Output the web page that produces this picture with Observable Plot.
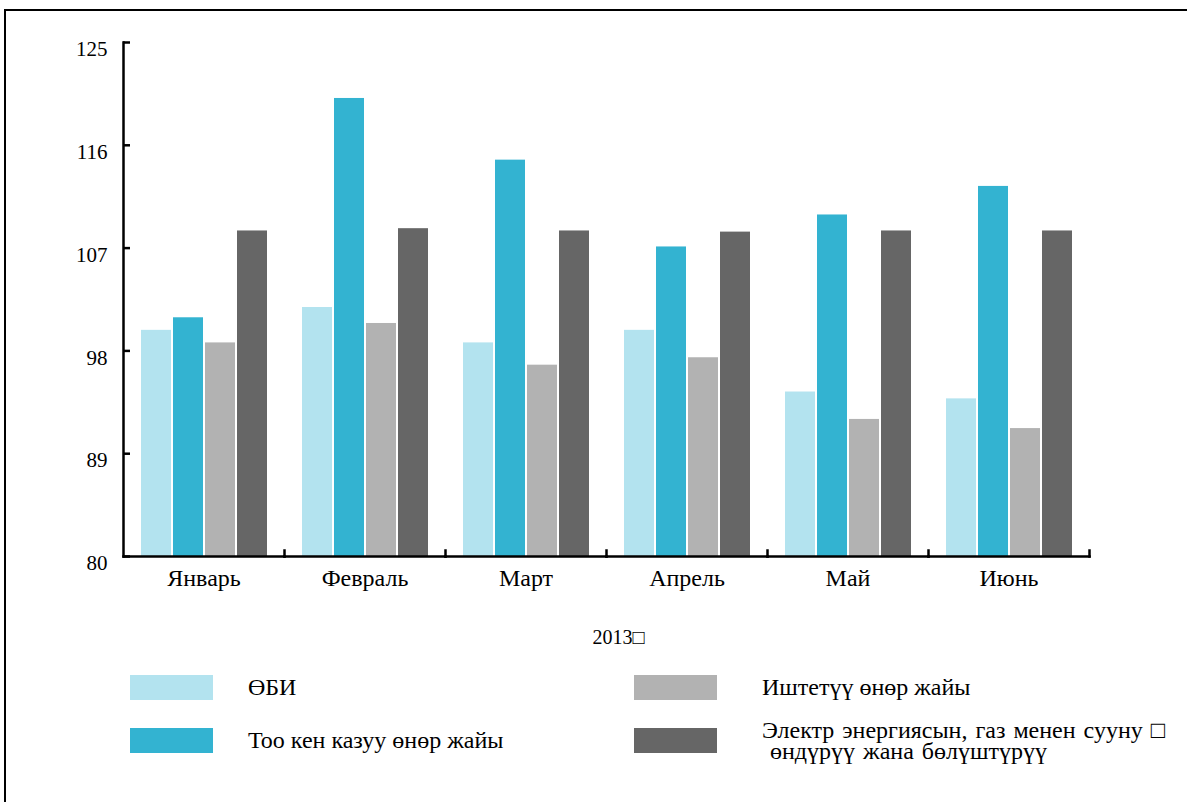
<!DOCTYPE html>
<html>
<head>
<meta charset="utf-8">
<script src="https://cdn.jsdelivr.net/npm/d3@7"></script>
<script src="https://cdn.jsdelivr.net/npm/@observablehq/plot@0.6"></script>
<style>
  html, body { margin: 0; padding: 0; background: #fff; overflow: hidden; width: 1187px; height: 802px; }
  body { font-family: "Liberation Serif", "Times New Roman", serif; color: #000; position: relative; }
  #border { position: absolute; left: 4px; top: 9px; width: 1300px; height: 900px;
            border-top: 2px solid #000; border-left: 2px solid #000; }
  #chart { position: absolute; left: 0; top: 0; }
  #year { position: absolute; left: 0; width: 1237px; top: 625px; text-align: center; font-size: 20px; line-height: 24px; }
  #legend { position: absolute; left: 130px; top: 675px; display: grid;
            grid-template-columns: 504px 504px; grid-template-rows: 53px 53px; grid-auto-flow: column; }
  .item { display: flex; align-items: flex-start; height: 53px; }
  .sw { width: 83px; height: 25px; flex: none; }
  .lab { margin-left: 35px; font-size: 24px; line-height: 21px; white-space: pre; height: 25px;
         display: flex; align-items: center; }
  .col2 .lab { margin-left: 45px; }
  .wide { word-spacing: 2px; }
</style>
</head>
<body>
<div id="border"></div>
<div id="chart"></div>
<div id="year"></div>
<div id="legend"></div>
<script>
const months = ["Январь", "Февраль", "Март", "Апрель", "Май", "Июнь"];
const seriesKeys = ["ӨБИ", "Тоо кен казуу өнөр жайы", "Иштетүү өнөр жайы", "Электр энергиясын, газ менен сууну"];
const seriesLabels = ["ӨБИ", "Тоо кен казуу өнөр жайы", "Иштетүү өнөр жайы", "Электр энергиясын, газ менен сууну \u25A1\n өндүрүү жана бөлүштүрүү"];
const obi = [99.8, 101.8, 98.7, 99.8, 94.4, 93.8];
const mining = [100.9, 120.1, 114.7, 107.1, 109.9, 112.4];
const manufacturing = [98.7, 100.4, 96.75, 97.4, 92.0, 91.2];
const electricity = [108.5, 108.7, 108.5, 108.4, 108.5, 108.5];
const seriesColors = ["#b3e3ef", "#33b3d1", "#b2b2b2", "#666666"];
const yTicks = [80, 89, 98, 107, 116, 125];
const yearLabel = "2013\u25A1";

const seriesValues = [obi, mining, manufacturing, electricity];
const data = [];
months.forEach((m, i) => {
  seriesKeys.forEach((k, j) => data.push({month: m, key: k, value: seriesValues[j][i]}));
});

const chart = Plot.plot({
  width: 1187,
  height: 600,
  marginLeft: 121,
  marginRight: 97,
  marginTop: 42,
  marginBottom: 44,
  style: {fontFamily: "'Liberation Serif', 'Times New Roman', serif", fontSize: "20px", color: "#000", background: "transparent"},
  fx: {domain: months, padding: 0, label: null, axis: null},
  x: {domain: seriesKeys, paddingInner: 0.07, paddingOuter: 0.538, axis: null},
  y: {domain: [80, 125], axis: null},
  color: {domain: seriesKeys, range: seriesColors},
  marks: [
    Plot.barY(data, {fx: "month", x: "key", y1: 80, y2: "value", fill: "key"}),
    Plot.axisFx({anchor: "bottom", tickSize: 0, tickPadding: 12, label: null, fontSize: 24}),
    Plot.axisY({ticks: yTicks, tickSize: 0, tickPadding: 16, dy: 7, label: null, fontSize: 21}),
    Plot.axisY({ticks: yTicks, tickSize: -7, tickFormat: () => "", label: null, strokeWidth: 2.5}),
    Plot.frame({anchor: "left", facetAnchor: "left", strokeWidth: 2.5, stroke: "#000"}),
    Plot.frame({anchor: "bottom", strokeWidth: 2.5, stroke: "#000"}),
    Plot.frame({anchor: "right", insetTop: 508, strokeWidth: 2.5, stroke: "#000"})
  ]
});
document.getElementById("chart").appendChild(chart);
document.getElementById("year").textContent = yearLabel;

const legend = document.getElementById("legend");
seriesKeys.forEach((k, j) => {
  const item = document.createElement("div");
  item.className = "item" + (j >= 2 ? " col2" : "");
  const sw = document.createElement("div");
  sw.className = "sw";
  sw.style.background = seriesColors[j];
  const lab = document.createElement("div");
  lab.className = "lab" + (j === 3 ? " wide" : "");
  lab.textContent = seriesLabels[j];
  item.appendChild(sw);
  item.appendChild(lab);
  legend.appendChild(item);
});
</script>
</body>
</html>
